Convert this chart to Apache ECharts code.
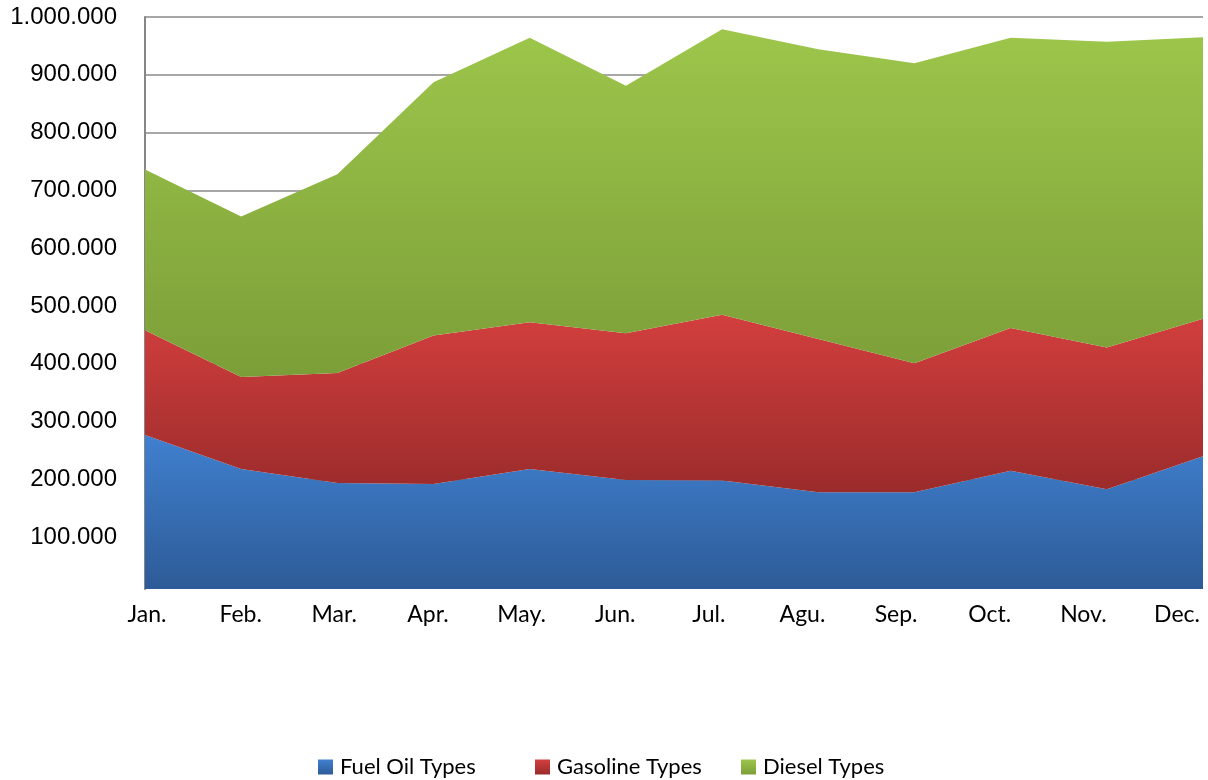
<!DOCTYPE html>
<html>
<head>
<meta charset="utf-8">
<script src="https://cdn.jsdelivr.net/npm/echarts@6/dist/echarts.min.js"></script>
<style>
  html, body { margin: 0; padding: 0; background: #fff; }
  #chart { width: 1208px; height: 780px; }
</style>
</head>
<body>
<div id="chart"></div>
<script>
// month labels as printed on the axis
var months = ["Jan.", "Feb.", "Mar.", "Apr.", "May.", "Jun.", "Jul.", "Agu.", "Sep.", "Oct.", "Nov.", "Dec."];

// values (stacked areas)
var fuelOil = [277000, 218000, 194000, 192000, 218000, 199000, 198000, 178000, 178000, 215000, 183000, 240000];
var gasoline = [181000, 159000, 190000, 257000, 254000, 254000, 287000, 265000, 223000, 247000, 245000, 238000];
var diesel = [278000, 278000, 344000, 438000, 492000, 428000, 494000, 501000, 519000, 502000, 529000, 487000];

var seriesNames = ["Fuel Oil Types", "Gasoline Types", "Diesel Types"];

function grad(top, bottom) {
  return {
    type: "linear", x: 0, y: 0, x2: 0, y2: 1,
    colorStops: [{ offset: 0, color: top }, { offset: 1, color: bottom }]
  };
}

var fills = [
  grad("#4080CF", "#2D5B97"),
  grad("#D23F3E", "#9B2B2B"),
  grad("#9DC64B", "#7C9E38")
];

// thousands separated by dots, zero label left blank
function fmt(v) {
  if (v === 0) return "";
  return String(v).replace(/\B(?=(\d{3})+(?!\d))/g, ".");
}

function makeLegend(name, left) {
  return {
    data: [name],
    left: left,
    top: 756,
    padding: 0,
    itemWidth: 15,
    itemHeight: 15,
    icon: "rect",
    selectedMode: false,
    textStyle: { fontFamily: "Lato", fontSize: 22, color: "#000", padding: [0, 0, 0, 2] }
  };
}

var dom = document.getElementById("chart");
var myChart = echarts.init(dom, null, { renderer: "canvas" });

var option = {
  animation: false,
  backgroundColor: "#fff",
  legend: [
    makeLegend(seriesNames[0], 318),
    makeLegend(seriesNames[1], 535),
    makeLegend(seriesNames[2], 741)
  ],
  grid: [
    // gridlines + value labels (zero sits just below the plot floor)
    { left: 145, right: 5, top: 17, bottom: 185 },
    // the areas themselves
    { left: 145, right: 5, top: 17, bottom: 191 },
    // month labels
    { left: 147, width: 1030, top: 17, bottom: 191 }
  ],
  xAxis: [
    { type: "category", gridIndex: 0, data: months, boundaryGap: false, show: false },
    { type: "category", gridIndex: 1, data: months, boundaryGap: false, show: false },
    {
      type: "category",
      gridIndex: 2,
      data: months,
      boundaryGap: false,
      axisLine: { show: false },
      axisTick: { show: false },
      axisLabel: { margin: 14, fontFamily: "Lato", fontSize: 23, color: "#000" }
    }
  ],
  yAxis: [
    {
      type: "value",
      gridIndex: 0,
      min: 0,
      max: 1000000,
      interval: 100000,
      axisLine: { show: false },
      axisTick: { show: false },
      splitLine: { showMinLine: false, lineStyle: { color: "#8A8A8A", width: 1.5 } },
      axisLabel: {
        margin: 28,
        fontFamily: "Liberation Sans",
        fontSize: 24,
        color: "#000",
        formatter: fmt
      }
    },
    {
      type: "value",
      gridIndex: 1,
      min: 10400,
      max: 1000000,
      axisLine: { show: true, lineStyle: { color: "#868686", width: 2 } },
      axisTick: { show: false },
      axisLabel: { show: false },
      splitLine: { show: false }
    },
    { type: "value", gridIndex: 2, min: 0, max: 1000000, show: false }
  ],
  series: [
    { name: seriesNames[0], data: fuelOil },
    { name: seriesNames[1], data: gasoline },
    { name: seriesNames[2], data: diesel }
  ].map(function (s, i) {
    return {
      name: s.name,
      type: "line",
      stack: "total",
      data: s.data,
      xAxisIndex: 1,
      yAxisIndex: 1,
      showSymbol: false,
      symbol: "none",
      lineStyle: { width: 0 },
      itemStyle: { color: fills[i] },
      areaStyle: { color: fills[i], opacity: 1, origin: "start" }
    };
  })
};

if (option && typeof option === "object") {
  myChart.setOption(option);
}
</script>
</body>
</html>
